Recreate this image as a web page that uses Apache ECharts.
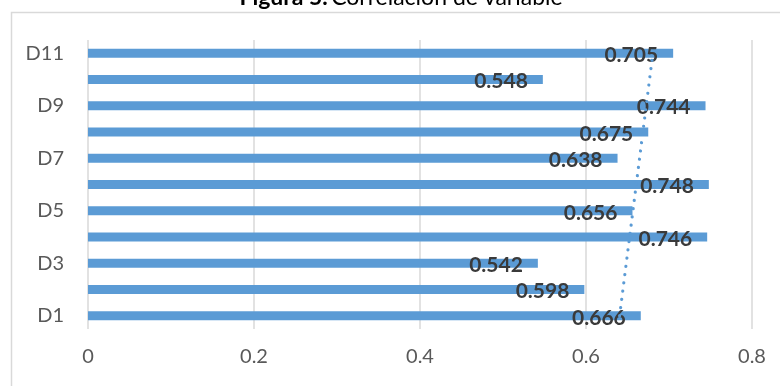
<!DOCTYPE html>
<html>
<head>
<meta charset="utf-8">
<script src="https://cdn.jsdelivr.net/npm/echarts@6/dist/echarts.min.js"></script>
<style>
  html, body { margin: 0; padding: 0; background: #fff; }
  #chart { width: 780px; height: 386px; }
</style>
</head>
<body>
<div id="chart"></div>
<script>
const categories = ["D1", "D2", "D3", "D4", "D5", "D6", "D7", "D8", "D9", "D10", "D11"];
const correlation = [0.666, 0.598, 0.542, 0.746, 0.656, 0.748, 0.638, 0.675, 0.744, 0.548, 0.705];
const xTicks = [0, 0.2, 0.4, 0.6, 0.8];

// linear trend (least squares over category index), like the Excel trendline
const n = correlation.length;
const meanX = (n - 1) / 2;
const meanY = correlation.reduce((a, b) => a + b, 0) / n;
let sxy = 0, sxx = 0;
correlation.forEach((v, i) => {
  sxy += (i - meanX) * (v - meanY);
  sxx += (i - meanX) * (i - meanX);
});
const slope = sxy / sxx;
const trend = [
  [meanY + slope * (0 - meanX), categories[0]],
  [meanY + slope * (n - 1 - meanX), categories[n - 1]],
];

const FONT = "Lato";
const chart = echarts.init(document.getElementById("chart"), null, { renderer: "canvas" });

chart.setOption({
  backgroundColor: "#fff",
  animation: false,
  textStyle: { fontFamily: FONT },
  graphic: [
    {
      type: "rect",
      left: 9,
      top: 10,
      shape: { width: 900, height: 500 },
      style: { fill: "none", stroke: "#d9d9d9", lineWidth: 1.5 },
      silent: true,
      z: -1,
    },
    {
      // title is clipped by the top edge in the original
      type: "text",
      x: 401,
      y: -2,
      silent: true,
      style: {
        text: "{b|Figura 5.} {n|Correlación de variable}",
        align: "center",
        verticalAlign: "middle",
        rich: {
          b: { fontFamily: FONT, fontWeight: "bold", fontSize: 23, fill: "#000" },
          n: { fontFamily: FONT, fontSize: 23, fill: "#000" },
        },
      },
    },
  ],
  grid: { left: 88, right: 28, top: 40, bottom: 57 },
  xAxis: {
    type: "value",
    min: xTicks[0],
    max: xTicks[xTicks.length - 1],
    interval: 0.2,
    axisLine: { show: false },
    axisTick: { show: false },
    axisLabel: {
      color: "#595959",
      fontSize: 20,
      fontFamily: FONT,
      margin: 18,
      formatter: (v) => String(+v.toFixed(1)),
    },
    splitLine: { show: true, lineStyle: { color: "#d9d9d9", width: 1.5 } },
  },
  yAxis: {
    type: "category",
    data: categories,
    axisLine: { show: false },
    axisTick: { show: false },
    axisLabel: {
      interval: 1,
      color: "#595959",
      fontSize: 20,
      fontFamily: FONT,
      margin: 24,
    },
    splitLine: { show: false },
  },
  series: [
    {
      type: "bar",
      data: correlation,
      barWidth: 9,
      itemStyle: { color: "#5b9bd5" },
      label: {
        show: true,
        position: "insideRight",
        distance: 15,
        offset: [0, 2],
        color: "#3a3a3a",
        fontSize: 21,
        fontWeight: "bold",
        fontFamily: FONT,
        formatter: (p) => p.value.toFixed(3),
      },
      z: 2,
    },
    {
      type: "line",
      data: trend,
      symbol: "none",
      silent: true,
      lineStyle: { color: "#5b9bd5", width: 3.2, type: [0.01, 8.3], cap: "round" },
      z: 3,
    },
  ],
});
</script>
</body>
</html>
